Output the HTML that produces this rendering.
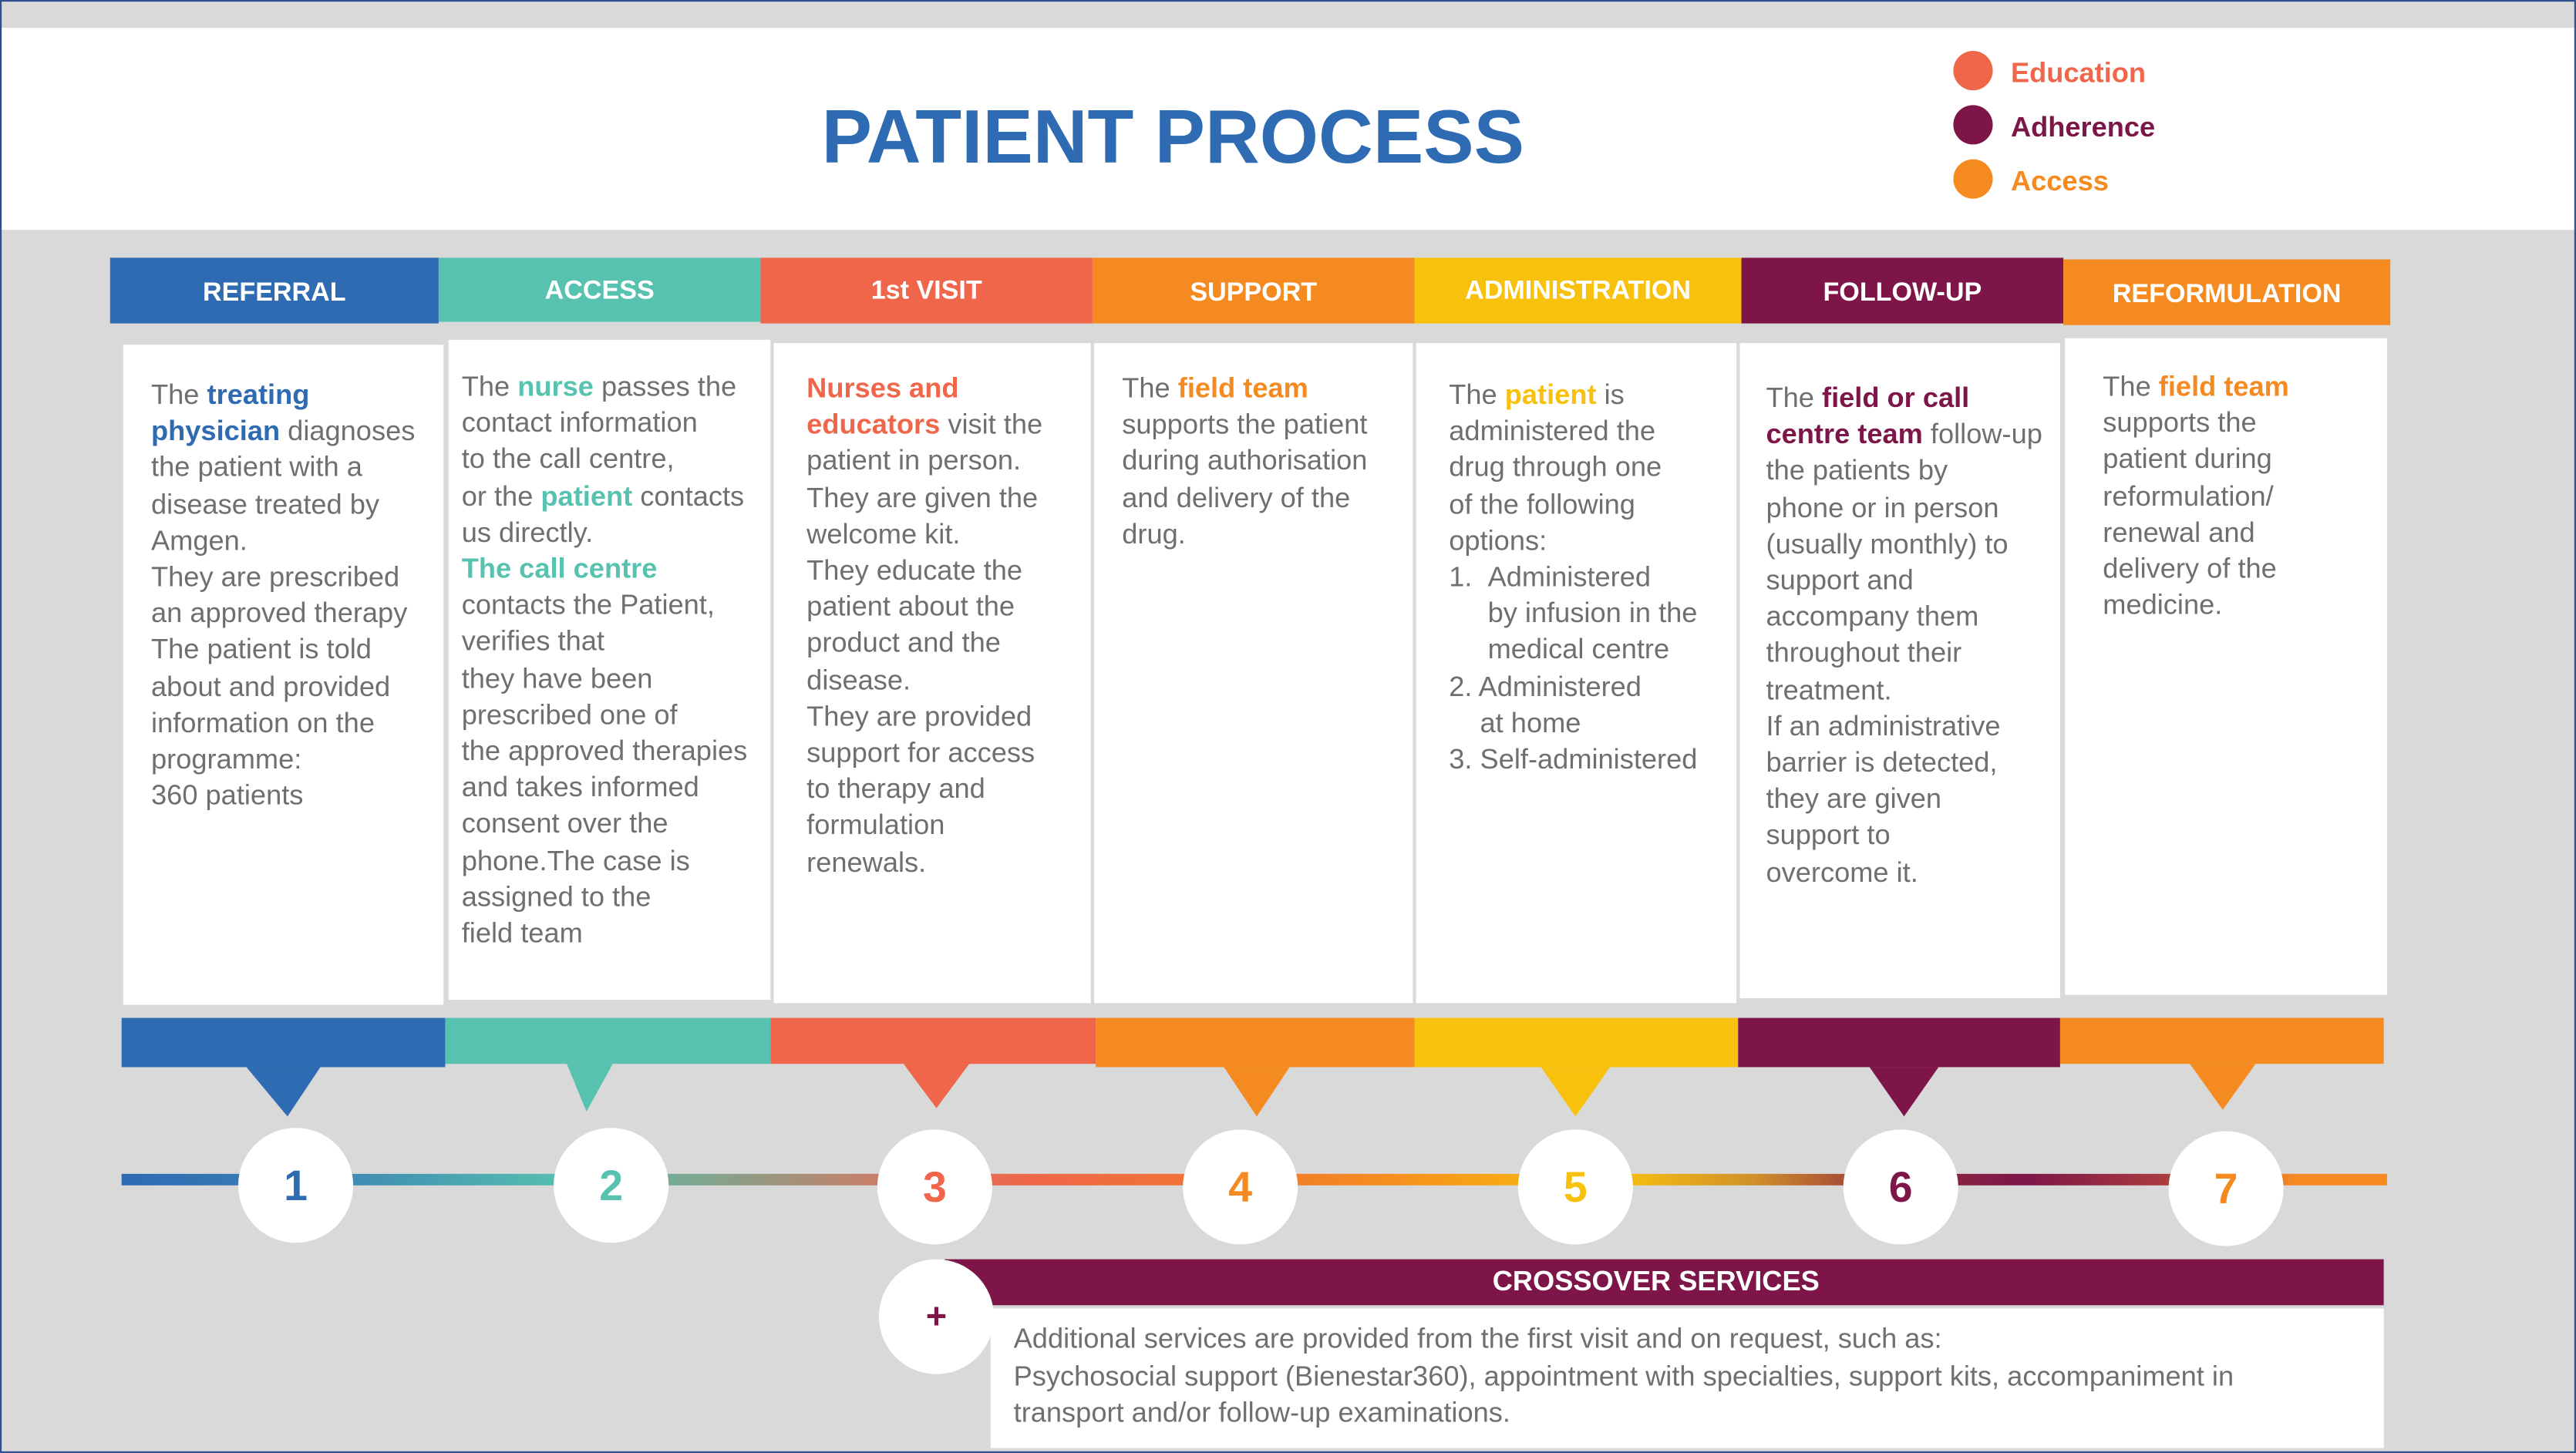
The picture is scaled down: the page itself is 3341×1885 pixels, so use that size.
<!DOCTYPE html>
<html><head><meta charset="utf-8"><style>
html,body{margin:0;padding:0;width:3341px;height:1885px;overflow:hidden;background:#d9d9d9}
#s{position:absolute;left:0;top:0;width:1568px;height:885px;transform:scale(2.1307,2.1299);transform-origin:0 0;background:#d9d9d9;font-family:"Liberation Sans",Arial,sans-serif;}
.a{position:absolute}
.frame{position:absolute;left:0;top:0;width:1566px;height:883px;border:1px solid #2e4f8f}
.hdr{position:absolute;top:157px;height:40px;color:#fff;font-weight:bold;font-size:16px;line-height:44px;text-align:center}
.box{position:absolute;top:208px;height:402px;background:#fff}
.txt{position:absolute;font-size:17px;line-height:22.2px;color:#6d6f73;white-space:nowrap}
.txt b{font-weight:bold}
.bar{position:absolute;top:620px;height:30px}
.circ{position:absolute;width:70px;height:70px;border-radius:50%;background:#fff;text-align:center;line-height:70px;font-size:26px;font-weight:bold}
</style></head><body><div id="s">
<div class="a" style="left:0;top:17px;width:1568px;height:123px;background:#fff"></div>
<div class="a" style="left:0;top:58px;width:1428px;text-align:center;font-size:46px;font-weight:bold;color:#2e6bb3;line-height:50px">PATIENT PROCESS</div>
<div class="a" style="left:1189px;top:31px;width:24px;height:24px;border-radius:50%;background:#f0664a"></div>
<div class="a" style="left:1189px;top:64px;width:24px;height:24px;border-radius:50%;background:#7d1548"></div>
<div class="a" style="left:1189px;top:97px;width:24px;height:24px;border-radius:50%;background:#f58a20"></div>
<div class="a" style="left:1224px;top:35px;font-size:17px;font-weight:bold;color:#f0664a;line-height:20px">Education</div>
<div class="a" style="left:1224px;top:68px;font-size:17px;font-weight:bold;color:#7d1548;line-height:20px">Adherence</div>
<div class="a" style="left:1224px;top:101px;font-size:17px;font-weight:bold;color:#f58a20;line-height:20px">Access</div>

<div class="hdr" style="left:67px;width:200px;background:#2e6bb3">REFERRAL</div>
<div class="hdr" style="left:267px;width:196px;background:#58c2b0;height:39px;line-height:42px">ACCESS</div>
<div class="hdr" style="left:463px;width:202px;background:#f0664a;line-height:42px">1st VISIT</div>
<div class="hdr" style="left:665px;width:196px;background:#f58a20">SUPPORT</div>
<div class="hdr" style="left:861px;width:199px;background:#f8c10e;line-height:42px">ADMINISTRATION</div>
<div class="hdr" style="left:1060px;width:196px;background:#7d1548">FOLLOW-UP</div>
<div class="hdr" style="left:1256px;width:199px;background:#f58a20;top:158px">REFORMULATION</div>

<div class="box" style="left:75px;width:195px;top:210px"></div>
<div class="box" style="left:273px;width:196px;top:207px;height:402px"></div>
<div class="box" style="left:471px;width:193px;top:209px"></div>
<div class="box" style="left:666px;width:194px;top:209px"></div>
<div class="box" style="left:862px;width:195px;top:209px"></div>
<div class="box" style="left:1059px;width:195px;top:209px;height:399px"></div>
<div class="box" style="left:1257px;width:196px;top:206px;height:400px"></div>

<div class="txt" style="left:92px;top:230px">The <b style="color:#2e6bb3">treating</b><br><b style="color:#2e6bb3">physician</b> diagnoses<br>the patient with a<br>disease treated by<br>Amgen.<br>They are prescribed<br>an approved therapy<br>The patient is told<br>about and provided<br>information on the<br>programme:<br>360 patients</div>
<div class="txt" style="left:281px;top:225px">The <b style="color:#58c2b0">nurse</b> passes the<br>contact information<br>to the call centre,<br>or the <b style="color:#58c2b0">patient</b> contacts<br>us directly.<br><b style="color:#58c2b0">The call centre</b><br>contacts the Patient,<br>verifies that<br>they have been<br>prescribed one of<br>the approved therapies<br>and takes informed<br>consent over the<br>phone.The case is<br>assigned to the<br>field team</div>
<div class="txt" style="left:491px;top:226px"><b style="color:#f0664a">Nurses and</b><br><b style="color:#f0664a">educators</b> visit the<br>patient in person.<br>They are given the<br>welcome kit.<br>They educate the<br>patient about the<br>product and the<br>disease.<br>They are provided<br>support for access<br>to therapy and<br>formulation<br>renewals.</div>
<div class="txt" style="left:683px;top:226px">The <b style="color:#f58a20">field team</b><br>supports the patient<br>during authorisation<br>and delivery of the<br>drug.</div>
<div class="txt" style="left:882px;top:230px">The <b style="color:#f8c10e">patient</b> is<br>administered the<br>drug through one<br>of the following<br>options:<br>1.&nbsp;&nbsp;Administered<br>&nbsp;&nbsp;&nbsp;&nbsp;&nbsp;by infusion in the<br>&nbsp;&nbsp;&nbsp;&nbsp;&nbsp;medical centre<br>2. Administered<br>&nbsp;&nbsp;&nbsp;&nbsp;at home<br>3. Self-administered</div>
<div class="txt" style="left:1075px;top:232px">The <b style="color:#7d1548">field or call</b><br><b style="color:#7d1548">centre team</b> follow-up<br>the patients by<br>phone or in person<br>(usually monthly) to<br>support and<br>accompany them<br>throughout their<br>treatment.<br>If an administrative<br>barrier is detected,<br>they are given<br>support to<br>overcome it.</div>
<div class="txt" style="left:1280px;top:225px">The <b style="color:#f58a20">field team</b><br>supports the<br>patient during<br>reformulation/<br>renewal and<br>delivery of the<br>medicine.</div>

<div class="bar" style="left:74px;width:197px;background:#2e6bb3"></div>
<div class="bar" style="left:271px;width:198px;background:#58c2b0;height:28px"></div>
<div class="bar" style="left:469px;width:198px;background:#f0664a;height:28px"></div>
<div class="bar" style="left:667px;width:194px;background:#f58a20"></div>
<div class="bar" style="left:861px;width:197px;background:#f8c10e"></div>
<div class="bar" style="left:1058px;width:196px;background:#7d1548"></div>
<div class="bar" style="left:1254px;width:197px;background:#f58a20;height:28px"></div>
<svg class="a" style="left:0;top:0" width="1568" height="885">
<polygon points="150,650 195,650 175,680" fill="#2e6bb3"/>
<polygon points="345,648 373,648 357,677" fill="#58c2b0"/>
<polygon points="550,648 590,648 570,675" fill="#f0664a"/>
<polygon points="745,650 785,650 765,680" fill="#f58a20"/>
<polygon points="938,650 980,650 959,680" fill="#f8c10e"/>
<polygon points="1138,650 1180,650 1159,680" fill="#7d1548"/>
<polygon points="1333,648 1373,648 1353,676" fill="#f58a20"/>
<defs><linearGradient id="g" x1="74" x2="1453" y1="0" y2="0" gradientUnits="userSpaceOnUse">
<stop offset="0" stop-color="#2e6bb3"/><stop offset="0.08" stop-color="#3a7fb3"/>
<stop offset="0.2" stop-color="#58c2b0"/><stop offset="0.25" stop-color="#7aa892"/>
<stop offset="0.33" stop-color="#c4806a"/><stop offset="0.4" stop-color="#f0664a"/>
<stop offset="0.5" stop-color="#f0782f"/><stop offset="0.55" stop-color="#f58a20"/>
<stop offset="0.66" stop-color="#f8c10e"/><stop offset="0.72" stop-color="#d0902a"/>
<stop offset="0.78" stop-color="#93303f"/><stop offset="0.84" stop-color="#7d1548"/>
<stop offset="0.9" stop-color="#a83a40"/><stop offset="0.96" stop-color="#f58a20"/><stop offset="1" stop-color="#f58a20"/>
</linearGradient></defs>
<rect x="74" y="715" width="1379" height="7" fill="url(#g)"/>
</svg>
<div class="circ" style="left:145px;top:687px;color:#2e6bb3">1</div>
<div class="circ" style="left:337px;top:687px;color:#58c2b0">2</div>
<div class="circ" style="left:534px;top:688px;color:#f0664a">3</div>
<div class="circ" style="left:720px;top:688px;color:#f58a20">4</div>
<div class="circ" style="left:924px;top:688px;color:#f8c10e">5</div>
<div class="circ" style="left:1122px;top:688px;color:#7d1548">6</div>
<div class="circ" style="left:1320px;top:689px;color:#f58a20">7</div>

<div class="a" style="left:575px;top:767px;width:876px;height:28px;background:#7d1548;color:#fff;font-weight:bold;font-size:17px;line-height:28px;text-align:center;text-indent:-10px">CROSSOVER SERVICES</div>
<div class="a" style="left:603px;top:797px;width:848px;height:85px;background:#fff"></div>
<div class="circ" style="left:535px;top:767px;color:#7d1548;font-size:22px">+</div>
<div class="txt" style="left:617px;top:805px;line-height:22.5px">Additional services are provided from the first visit and on request, such as:<br>Psychosocial support (Bienestar360), appointment with specialties, support kits, accompaniment in<br>transport and/or follow-up examinations.</div>
<div class="frame"></div>
</div></body></html>
